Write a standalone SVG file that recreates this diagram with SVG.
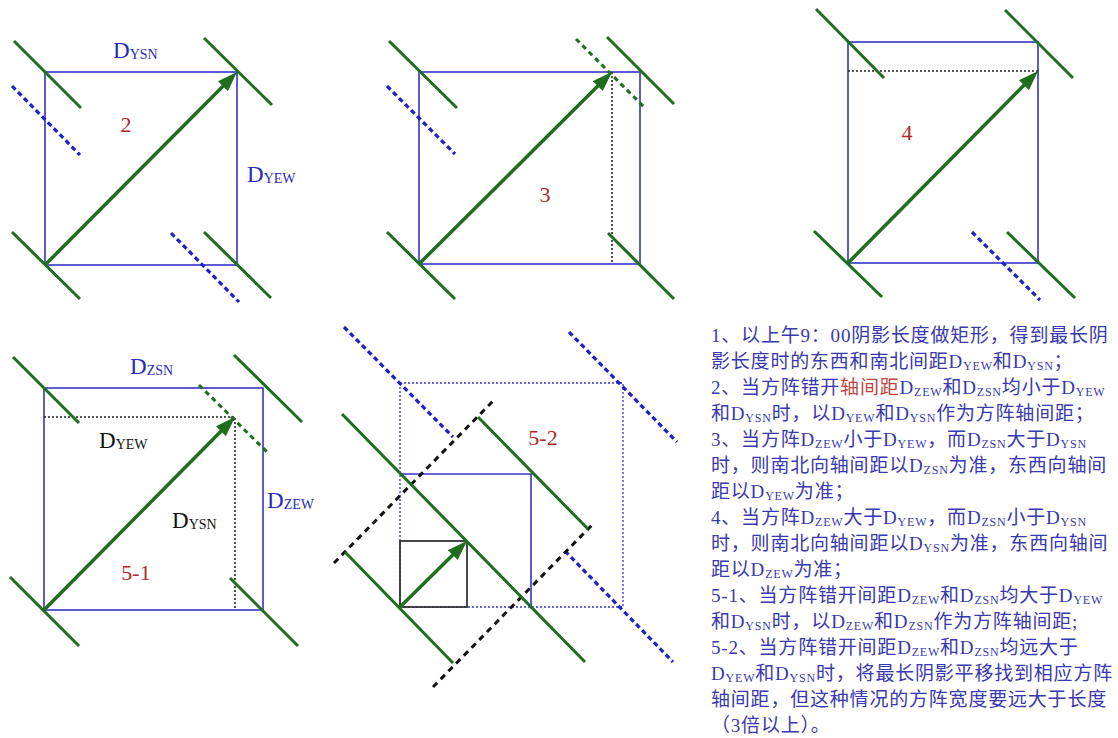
<svg xmlns="http://www.w3.org/2000/svg" width="1118" height="738" viewBox="0 0 1118 738">
<defs>
<marker id="ah" markerUnits="userSpaceOnUse" markerWidth="20" markerHeight="14" refX="12" refY="7" orient="auto"><path d="M0,0 L20,7 L0,14 z" fill="#1e6e1e"/></marker>
</defs>
<style>
.g{stroke:#1e6e1e;stroke-width:3;fill:none}
.gd{stroke:#1e6e1e;stroke-width:3;stroke-dasharray:5 4;fill:none}
.bd{stroke:#2020c8;stroke-width:3.2;stroke-dasharray:5 3.5;fill:none}
.r{stroke:#3535c8;stroke-width:1.6;fill:none}
.k{stroke:#222;stroke-width:1.6;stroke-dasharray:2 2;fill:none}
.kd{stroke:#111;stroke-width:3;stroke-dasharray:6 5;fill:none}
.br{stroke:#3535c8;stroke-width:1.3;stroke-dasharray:2 2;fill:none}
.kr{stroke:#333;stroke-width:1.8;fill:none}
.arr{stroke:#1e6e1e;stroke-width:3.5;fill:none;marker-end:url(#ah)}
.lbl{font-family:"Liberation Serif",serif;font-size:23px}
.s{font-size:14px}
.num{font-family:"Liberation Serif",serif;font-size:22px;fill:#b02828;text-anchor:middle}
.blue{fill:#2a2ac0}
.blk{fill:#111}
.tx{font-family:"Liberation Serif","Noto Sans CJK SC",sans-serif;font-size:19px;fill:#3838b0;letter-spacing:0.8px}
.tx .s{font-size:12px}
.red{fill:#c0443c}
</style>
<rect width="1118" height="738" fill="#ffffff"/>

<g id="panel-2">
<rect class="r" x="45" y="72" width="192" height="193"/>
<line class="bd" x1="12" y1="86" x2="80" y2="155"/>
<line class="bd" x1="171" y1="233" x2="239" y2="302"/>
<line class="g" x1="14" y1="41" x2="81" y2="108"/>
<line class="g" x1="204" y1="38" x2="272" y2="105"/>
<line class="g" x1="12" y1="232" x2="80" y2="299"/>
<line class="g" x1="204" y1="232" x2="271" y2="298"/>
<line class="arr" x1="45" y1="265" x2="231.4" y2="77.7"/>
<text class="lbl blue" x="113" y="58">D<tspan class="s" dy="1">YSN</tspan></text>
<text class="lbl blue" x="247" y="182">D<tspan class="s" dy="1">YEW</tspan></text>
<text class="num" x="126" y="132">2</text>
</g>

<g id="panel-3">
<rect class="r" x="419" y="72" width="221" height="192"/>
<line class="k" x1="612" y1="72" x2="612" y2="264"/>
<line class="bd" x1="387" y1="86" x2="455" y2="154"/>
<line class="gd" x1="576" y1="39" x2="644" y2="107"/>
<line class="g" x1="389" y1="41" x2="457" y2="108"/>
<line class="g" x1="607" y1="37" x2="674" y2="104"/>
<line class="g" x1="387" y1="232" x2="455" y2="299"/>
<line class="g" x1="608" y1="233" x2="674" y2="299"/>
<line class="arr" x1="419" y1="264" x2="606.3" y2="77.6"/>
<text class="num" x="545" y="202">3</text>
</g>

<g id="panel-4">
<rect class="r" x="848" y="42" width="190" height="221"/>
<line class="k" x1="848" y1="71" x2="1038" y2="71"/>
<line class="bd" x1="972" y1="232" x2="1040" y2="300"/>
<line class="g" x1="816" y1="9" x2="884" y2="78"/>
<line class="g" x1="1005" y1="10" x2="1073" y2="78"/>
<line class="g" x1="814" y1="231" x2="882" y2="297"/>
<line class="g" x1="1007" y1="232" x2="1075" y2="298"/>
<line class="arr" x1="848" y1="263" x2="1032.4" y2="76.7"/>
<text class="num" x="907" y="140">4</text>
</g>

<g id="panel-5-1">
<rect class="r" x="44" y="388" width="219" height="222"/>
<polyline class="k" points="44,417 235,417 235,610"/>
<line class="gd" x1="199" y1="385" x2="268" y2="453"/>
<line class="g" x1="13" y1="357" x2="79" y2="423"/>
<line class="g" x1="234" y1="355" x2="302" y2="422"/>
<line class="g" x1="10" y1="577" x2="79" y2="646"/>
<line class="g" x1="230" y1="578" x2="298" y2="646"/>
<line class="arr" x1="44" y1="610" x2="229.4" y2="422.7"/>
<text class="lbl blue" x="130" y="374">D<tspan class="s" dy="1">ZSN</tspan></text>
<text class="lbl blk" x="99" y="448">D<tspan class="s" dy="1">YEW</tspan></text>
<text class="lbl blue" x="267" y="508">D<tspan class="s" dy="1">ZEW</tspan></text>
<text class="lbl blk" x="172" y="528">D<tspan class="s" dy="1">YSN</tspan></text>
<text class="num" x="136" y="580">5-1</text>
</g>

<g id="panel-5-2">
<rect class="br" x="400" y="383" width="223" height="224"/>
<polyline class="r" points="400,474 531,474 531,607"/>
<rect class="kr" x="400" y="541" width="67" height="66"/>
<line class="bd" x1="344" y1="327" x2="453" y2="437"/>
<line class="bd" x1="569" y1="332" x2="677" y2="442"/>
<line class="bd" x1="565" y1="551" x2="673" y2="662"/>
<line class="kd" x1="334" y1="563" x2="493" y2="401"/>
<line class="kd" x1="433" y1="687" x2="592" y2="525"/>
<line class="g" x1="342" y1="414" x2="585" y2="662"/>
<line class="g" x1="478" y1="417" x2="588" y2="529"/>
<line class="g" x1="345" y1="552" x2="453" y2="663"/>
<line class="arr" x1="400" y1="607" x2="461.3" y2="546.6"/>
<text class="num" x="543" y="445">5-2</text>
</g>

<g id="notes" class="tx">
<text x="711" y="342">1、以上午9：00阴影长度做矩形，得到最长阴</text>
<text x="711" y="368">影长度时的东西和南北间距D<tspan class="s" dy="2">YEW</tspan><tspan dy="-2">和D</tspan><tspan class="s" dy="2">YSN</tspan><tspan dy="-2">；</tspan></text>
<text x="711" y="394">2、当方阵错开<tspan class="red">轴间距</tspan>D<tspan class="s" dy="2">ZEW</tspan><tspan dy="-2">和D</tspan><tspan class="s" dy="2">ZSN</tspan><tspan dy="-2">均小于D</tspan><tspan class="s" dy="2">YEW</tspan></text>
<text x="711" y="420">和D<tspan class="s" dy="2">YSN</tspan><tspan dy="-2">时，以D</tspan><tspan class="s" dy="2">YEW</tspan><tspan dy="-2">和D</tspan><tspan class="s" dy="2">YSN</tspan><tspan dy="-2">作为方阵轴间距；</tspan></text>
<text x="711" y="446">3、当方阵D<tspan class="s" dy="2">ZEW</tspan><tspan dy="-2">小于D</tspan><tspan class="s" dy="2">YEW</tspan><tspan dy="-2">，而D</tspan><tspan class="s" dy="2">ZSN</tspan><tspan dy="-2">大于D</tspan><tspan class="s" dy="2">YSN</tspan></text>
<text x="711" y="472">时，则南北向轴间距以D<tspan class="s" dy="2">ZSN</tspan><tspan dy="-2">为准，东西向轴间</tspan></text>
<text x="711" y="498">距以D<tspan class="s" dy="2">YEW</tspan><tspan dy="-2">为准；</tspan></text>
<text x="711" y="524">4、当方阵D<tspan class="s" dy="2">ZEW</tspan><tspan dy="-2">大于D</tspan><tspan class="s" dy="2">YEW</tspan><tspan dy="-2">，而D</tspan><tspan class="s" dy="2">ZSN</tspan><tspan dy="-2">小于D</tspan><tspan class="s" dy="2">YSN</tspan></text>
<text x="711" y="550">时，则南北向轴间距以D<tspan class="s" dy="2">YSN</tspan><tspan dy="-2">为准，东西向轴间</tspan></text>
<text x="711" y="576">距以D<tspan class="s" dy="2">ZEW</tspan><tspan dy="-2">为准；</tspan></text>
<text x="711" y="602">5-1、当方阵错开间距D<tspan class="s" dy="2">ZEW</tspan><tspan dy="-2">和D</tspan><tspan class="s" dy="2">ZSN</tspan><tspan dy="-2">均大于D</tspan><tspan class="s" dy="2">YEW</tspan></text>
<text x="711" y="628">和D<tspan class="s" dy="2">YSN</tspan><tspan dy="-2">时，以D</tspan><tspan class="s" dy="2">ZEW</tspan><tspan dy="-2">和D</tspan><tspan class="s" dy="2">ZSN</tspan><tspan dy="-2">作为方阵轴间距;</tspan></text>
<text x="711" y="654">5-2、当方阵错开间距D<tspan class="s" dy="2">ZEW</tspan><tspan dy="-2">和D</tspan><tspan class="s" dy="2">ZSN</tspan><tspan dy="-2">均远大于</tspan></text>
<text x="711" y="680">D<tspan class="s" dy="2">YEW</tspan><tspan dy="-2">和D</tspan><tspan class="s" dy="2">YSN</tspan><tspan dy="-2">时，将最长阴影平移找到相应方阵</tspan></text>
<text x="711" y="706">轴间距，但这种情况的方阵宽度要远大于长度</text>
<text x="711" y="732">（3倍以上）。</text>
</g>
</svg>
